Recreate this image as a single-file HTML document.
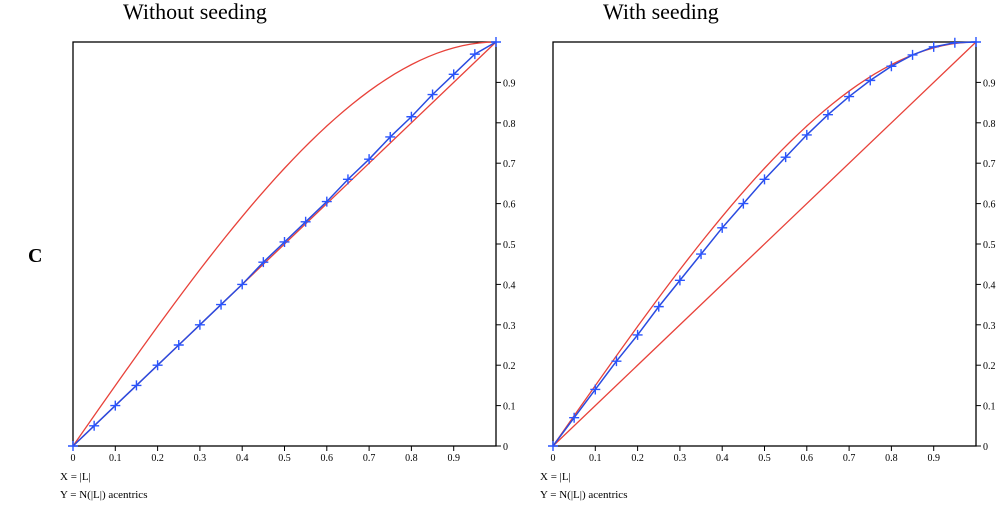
<!DOCTYPE html>
<html><head><meta charset="utf-8"><style>
body{margin:0;background:#fff;}
svg text{font-family:"Liberation Serif",serif;}
</style></head><body>
<svg id="c" width="1000" height="504" xmlns="http://www.w3.org/2000/svg">
<text x="28" y="262" font-size="20" font-weight="bold">C</text>
</svg>
<script>
const xs=[0.05,0.1,0.15,0.2,0.25,0.3,0.35,0.4,0.45,0.5,0.55,0.6,0.65,0.7,0.75,0.8,0.85,0.9,0.95];
const leftVals=[0.05,0.10,0.15,0.20,0.25,0.30,0.35,0.40,0.455,0.505,0.555,0.605,0.66,0.71,0.765,0.815,0.87,0.92,0.97];
const rightVals=[0.07,0.14,0.21,0.275,0.345,0.41,0.475,0.54,0.60,0.66,0.715,0.77,0.82,0.865,0.905,0.94,0.968,0.988,0.998];
const ticks=[0,0.1,0.2,0.3,0.4,0.5,0.6,0.7,0.8,0.9];
const tickLabels=["0",".1",".2",".3",".4",".5",".6",".7",".8",".9"];
const xTickLabels=["0","0.1","0.2","0.3","0.4","0.5","0.6","0.7","0.8","0.9"];
const titles=["Without seeding","With seeding"];
const NS="http://www.w3.org/2000/svg";
const svg=document.getElementById('c');
function mk(t,a,p){const e=document.createElementNS(NS,t);for(const k in a)e.setAttribute(k,a[k]);(p||svg).appendChild(e);return e;}
function panel(x0,vals,title,idx){
  const W=423,H=404,y0=446;
  const sx=v=>x0+v*W, sy=v=>y0-v*H;
  const g=mk('g',{});
  
  
  const t=mk('text',{x:x0+50,y:19,'font-size':22},g);t.textContent=title;
  
  
  const fr=mk('rect',{x:x0,y:y0-H,width:W,height:H,fill:'none',stroke:'#000','stroke-width':1.3},g);
  
  
  ticks.forEach((v,i)=>{
    mk('line',{x1:sx(v),x2:sx(v),y1:y0,y2:y0+5,stroke:'#000'},g);
    const tx=mk('text',{x:sx(v),y:y0+15,'font-size':10,'text-anchor':'middle'},g);tx.textContent=xTickLabels[i];
    
    
    mk('line',{x1:x0+W,x2:x0+W+5,y1:sy(v),y2:sy(v),stroke:'#000'},g);
    const ty=mk('text',{x:x0+W+7,y:sy(v)+4,'font-size':10},g);ty.textContent=i?"0"+tickLabels[i]:"0";
    
    
  });
  const l1=mk('text',{x:x0-13,y:y0+34,'font-size':11},g);l1.textContent="X = |L|";
  
  
  const l2=mk('text',{x:x0-13,y:y0+52,'font-size':11},g);l2.textContent="Y = N(|L|) acentrics";
  
  
  const d=mk('line',{x1:sx(0),y1:sy(0),x2:sx(1),y2:sy(1),stroke:'#e8423a','stroke-width':1.3},g);
  
  
  let p='';for(let i=0;i<=50;i++){const v=i/50;const y=v*(3-v*v)/2;p+=(i?'L':'M')+sx(v)+','+sy(y);}
  const c=mk('path',{d:p,fill:'none',stroke:'#e8423a','stroke-width':1.3},g);
  
  
  const pts=[[0,0]].concat(xs.map((v,i)=>[v,vals[i]])).concat([[1,1]]);
  const bl=mk('polyline',{points:pts.map(q=>sx(q[0])+','+sy(q[1])).join(' '),fill:'none',stroke:'#2a4be0','stroke-width':1.5},g);
  
  
  pts.forEach(q=>{
    const m=mk('path',{d:`M${sx(q[0])-5},${sy(q[1])}h10M${sx(q[0])},${sy(q[1])-5}v10`,stroke:'#2a55ff','stroke-width':1.4},g);
    
    
  });
}
panel(73,leftVals,titles[0],0);
panel(553,rightVals,titles[1],1);
</script>
</body></html>
